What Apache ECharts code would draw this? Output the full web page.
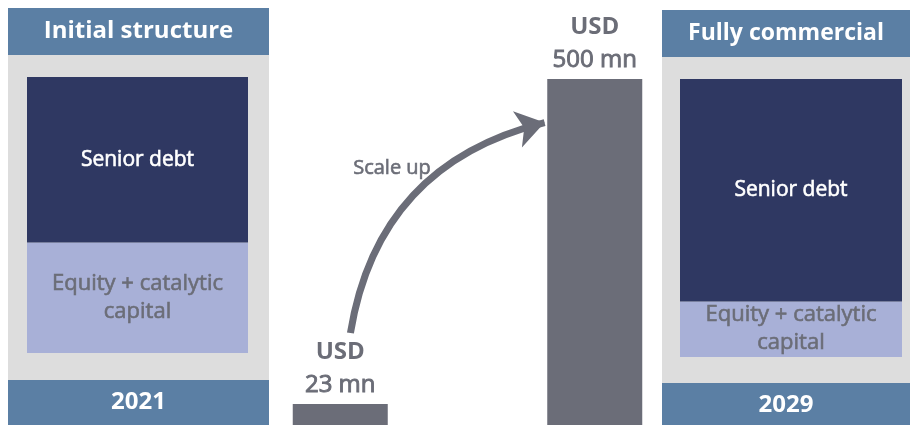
<!DOCTYPE html>
<html>
<head>
<meta charset="utf-8">
<script src="https://cdn.jsdelivr.net/npm/echarts@6/dist/echarts.min.js"></script>
<style>
html,body{margin:0;padding:0;background:#fff;}
#chart{width:910px;height:425px;}
</style>
</head>
<body>
<div id="chart"></div>
<script>
// ---- data ----
const panelTitles = ['Initial structure', 'Fully commercial'];
const years = ['2021', '2029'];
const componentNames = ['Senior debt', 'Equity + catalytic\ncapital'];
const initialShares = [60, 40];      // % senior debt, % equity + catalytic
const commercialShares = [80, 20];   // % senior debt, % equity + catalytic
const fundSizeUSDmn = [23, 500];
const arrowLabel = 'Scale up';
// arrow from small bar to large bar, in (band position, USD mn)
const arrowFrom = [0.54, 133];
const arrowTo = [1.303, 437];

// ---- styles ----
const FONT = '"Open Sans", "Noto Sans", sans-serif';
const C_HEAD = '#5b7fa4';
const C_PANEL = '#dddddd';
const C_NAVY = '#2f3862';
const C_LAV = '#a8b0d7';
const C_GREY = '#6b6d78';
const C_TEXT = '#6b6d77';

const chart = echarts.init(document.getElementById('chart'), null, {renderer: 'canvas'});

function headerBox(x, y, w, h, text, size) {
  return {
    type: 'group', z: 0,
    children: [
      {type: 'rect', shape: {x: x, y: y, width: w, height: h}, style: {fill: C_HEAD}},
      {type: 'text', x: x + w / 2, y: y + h / 2,
       style: {text: text, fill: '#ffffff', font: 'bold ' + size + 'px ' + FONT, align: 'center', verticalAlign: 'middle'}}
    ]
  };
}

function innerLabel(text, color, size, lh) {
  return {show: true, position: 'inside', formatter: text, color: color, fontSize: size,
          lineHeight: lh, fontFamily: FONT, textBorderColor: color, textBorderWidth: 0.6};
}

const option = {
  backgroundColor: '#ffffff',
  animation: false,
  grid: [
    {left: 27, top: 77, width: 221, height: 276},
    {left: 213, top: 79, width: 509, height: 346},
    {left: 680, top: 79, width: 222, height: 278}
  ],
  xAxis: [
    {type: 'category', gridIndex: 0, data: [years[0]], show: false},
    {type: 'category', gridIndex: 1, data: years, show: false},
    {type: 'value', gridIndex: 1, min: 0, max: 2, show: false},
    {type: 'category', gridIndex: 2, data: [years[1]], show: false}
  ],
  yAxis: [
    {type: 'value', gridIndex: 0, min: 0, max: 100, show: false},
    {type: 'value', gridIndex: 1, min: 0, max: 500, show: false},
    {type: 'value', gridIndex: 2, min: 0, max: 100, show: false}
  ],
  graphic: [
    {type: 'rect', z: -1, shape: {x: 8, y: 55, width: 261, height: 325}, style: {fill: C_PANEL}},
    {type: 'rect', z: -1, shape: {x: 662, y: 57, width: 248, height: 326}, style: {fill: C_PANEL}},
    headerBox(8, 8, 261, 47, panelTitles[0], 24),
    headerBox(662, 10, 248, 47, panelTitles[1], 23),
    headerBox(8, 380, 261, 45, years[0], 24),
    headerBox(662, 383, 248, 44, years[1], 24),
    {type: 'text', z: 5, x: 392, y: 168,
     style: {text: arrowLabel, fill: C_TEXT, font: '20px ' + FONT, align: 'center', verticalAlign: 'middle',
             stroke: C_TEXT, lineWidth: 0.6}}
  ],
  series: [
    // initial structure
    {type: 'bar', name: componentNames[1], xAxisIndex: 0, yAxisIndex: 0, stack: 'a', barWidth: '100%',
     data: [initialShares[1]], itemStyle: {color: C_LAV},
     label: innerLabel(componentNames[1], C_TEXT, 22, 28)},
    {type: 'bar', name: componentNames[0], xAxisIndex: 0, yAxisIndex: 0, stack: 'a', barWidth: '100%',
     data: [initialShares[0]], itemStyle: {color: C_NAVY},
     label: innerLabel(componentNames[0], '#ffffff', 21, 28)},
    // fully commercial
    {type: 'bar', name: componentNames[1], xAxisIndex: 3, yAxisIndex: 2, stack: 'b', barWidth: '100%',
     data: [commercialShares[1]], itemStyle: {color: C_LAV},
     label: innerLabel(componentNames[1], C_TEXT, 22, 28)},
    {type: 'bar', name: componentNames[0], xAxisIndex: 3, yAxisIndex: 2, stack: 'b', barWidth: '100%',
     data: [commercialShares[0]], itemStyle: {color: C_NAVY},
     label: innerLabel(componentNames[0], '#ffffff', 21, 28)},
    // fund size
    {type: 'bar', name: 'Fund size', xAxisIndex: 1, yAxisIndex: 1, barWidth: 95, barMinHeight: 21,
     data: fundSizeUSDmn, itemStyle: {color: C_GREY},
     label: {show: true, position: 'top', distance: 2,
       formatter: function (p) { return '{a|USD}\n{b|' + p.value + ' mn}'; },
       rich: {
         a: {fontSize: 24, fontWeight: 'bold', color: C_TEXT, fontFamily: FONT, lineHeight: 33},
         b: {fontSize: 24, color: C_TEXT, fontFamily: FONT, lineHeight: 33, textBorderColor: C_TEXT, textBorderWidth: 0.9}
       }}},
    {type: 'lines', coordinateSystem: 'cartesian2d', xAxisIndex: 2, yAxisIndex: 1, z: 4,
     symbol: ['none', 'arrow'], symbolSize: 28,
     lineStyle: {color: C_GREY, width: 7, opacity: 1, curveness: 0.33},
     data: [{coords: [arrowFrom, arrowTo]}]}
  ]
};
chart.setOption(option);
</script>
</body>
</html>
